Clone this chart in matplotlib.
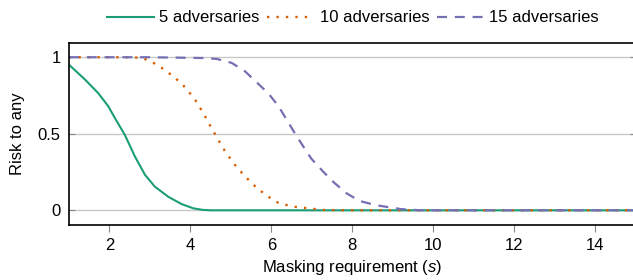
import matplotlib
matplotlib.use("Agg")
import matplotlib.pyplot as plt

plt.rcParams['font.family'] = ['Liberation Sans', 'DejaVu Sans']
plt.rcParams['mathtext.fontset'] = 'custom'
plt.rcParams['mathtext.it'] = 'Liberation Sans:italic'
plt.rcParams['mathtext.rm'] = 'Liberation Sans'

# values
x5 = [1, 1.4, 1.72, 1.97, 2.14, 2.38, 2.63, 2.88, 3.12, 3.45, 3.78, 4.07, 4.3, 4.5, 6, 8, 10, 12, 15]
y5 = [0.951, 0.853, 0.766, 0.68, 0.60, 0.493, 0.351, 0.231, 0.155, 0.089, 0.041, 0.013, 0.003, 0,
      0, 0, 0, 0, 0]

x10 = [1, 2, 2.6, 2.86, 3.04, 3.2, 3.35, 3.5, 3.64, 3.78, 4.02, 4.13, 4.32, 4.5, 4.68, 4.87,
       5.09, 5.33, 5.59, 5.88, 6.19, 6.54, 6.91, 7.3, 8, 10, 12, 15]
y10 = [1, 1, 1, 0.99, 0.97, 0.947, 0.92, 0.89, 0.86, 0.83, 0.755, 0.716, 0.635, 0.547, 0.465,
       0.38, 0.30, 0.227, 0.159, 0.096, 0.046, 0.024, 0.013, 0.002, 0, 0, 0, 0]

x15 = [1, 3, 4.28, 4.65, 5.02, 5.35, 5.63, 5.92, 6.17, 6.37, 6.58, 6.79, 6.99, 7.28, 7.55,
       7.86, 8.18, 8.59, 9.2, 9.7, 12, 15]
y15 = [1, 1, 0.995, 0.989, 0.963, 0.908, 0.838, 0.766, 0.683, 0.596, 0.504, 0.417, 0.337,
       0.253, 0.181, 0.111, 0.061, 0.033, 0.008, 0, 0, 0]

labels = ['5 adversaries', '10 adversaries', '15 adversaries']
colors = ['#1b9e77', '#d95f02', '#7570b3']

fig = plt.figure(figsize=(6.33, 2.8), dpi=100)
ax = fig.add_axes([69/633, 55/280, (635.5-69)/633, 182/280])

ax.plot(x5, y5, color=colors[0], lw=1.5, label=labels[0])
ax.plot(x10, y10, color=colors[1], lw=1.7, linestyle=(0, (1, 3)), label=labels[1])
ax.plot(x15, y15, color=colors[2], lw=1.6, linestyle=(0, (4.5, 3.5)), label=labels[2])

ax.set_xlim(1, 15)
ax.set_ylim(-0.096, 1.093)
ax.set_xticks([2, 4, 6, 8, 10, 12, 14])
ax.set_yticks([0, 0.5, 1])
ax.set_yticklabels(['0', '0.5', '1'])
ax.grid(True, axis='y', color='#c8c8c8', lw=1)
ax.set_axisbelow(True)
ax.tick_params(axis='x', direction='out', length=5, color='#888888', labelsize=12, pad=4)
ax.tick_params(axis='y', direction='in', length=4, color='#888888', labelsize=12, pad=6,
               right=True)
for s in ax.spines.values():
    s.set_linewidth(1.2)

ax.set_xlabel('Masking requirement ($\\it{s}$)', fontsize=12, labelpad=4)
ax.set_ylabel('Risk to any', fontsize=12, labelpad=9)

fig.legend(loc='center', bbox_to_anchor=(353/633, 1 - 18/280), ncol=3, frameon=False,
           fontsize=12, handlelength=2.8, handletextpad=0.35, columnspacing=0.45,
           borderaxespad=0)

fig.savefig('out.png', dpi=100)
